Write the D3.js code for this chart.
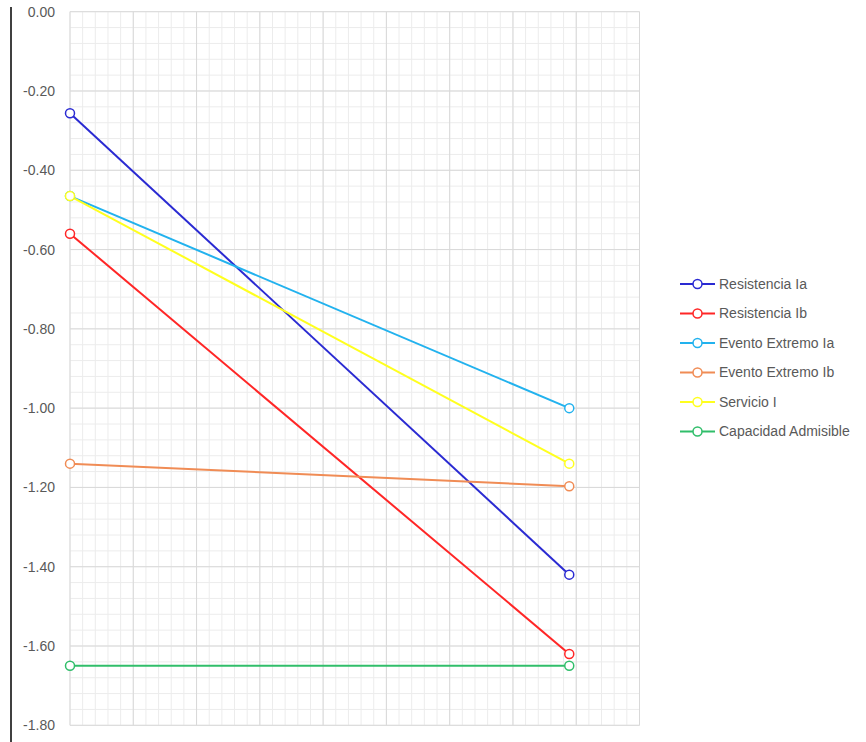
<!DOCTYPE html>
<html>
<head>
<meta charset="utf-8">
<script src="https://cdn.jsdelivr.net/npm/d3@7/dist/d3.min.js"></script>
<style>
  html, body { margin: 0; padding: 0; background: #fff; }
  svg { display: block; font-family: "Liberation Sans", Arial, sans-serif; }
</style>
</head>
<body>
<svg id="chart" width="866" height="742"></svg>
<script>
// ---- data ----
const xPositions = [0, 7.89];
const seriesNames = ["Resistencia Ia", "Resistencia Ib", "Evento Extremo Ia", "Evento Extremo Ib", "Servicio I", "Capacidad Admisible"];
const resistenciaIa = [-0.256, -1.42];
const resistenciaIb = [-0.56, -1.62];
const eventoExtremoIa = [-0.465, -1.00];
const eventoExtremoIb = [-1.14, -1.197];
const servicioI = [-0.465, -1.14];
const capacidadAdmisible = [-1.65, -1.65];
const seriesColors = ["#2A2AD2", "#FF2626", "#22B2EE", "#F08C55", "#FFFF1E", "#30BE6A"];
const yTicks = [0, -0.2, -0.4, -0.6, -0.8, -1.0, -1.2, -1.4, -1.6, -1.8];
const yTickLabels = ["0.00", "-0.20", "-0.40", "-0.60", "-0.80", "-1.00", "-1.20", "-1.40", "-1.60", "-1.80"];

const seriesValues = [resistenciaIa, resistenciaIb, eventoExtremoIa, eventoExtremoIb, servicioI, capacidadAdmisible];

// ---- layout ----
const svg = d3.select("#chart");
const plot = { left: 70, right: 639.5, top: 11.7, bottom: 725.3 };

const x = d3.scaleLinear().domain([0, 9]).range([plot.left, plot.right]);
const y = d3.scaleLinear().domain([0, -1.8]).range([plot.top, plot.bottom]);

// minor gridlines
const g = svg.append("g");
const minorX = d3.range(0, 9.0001, 0.2).map(v => +v.toFixed(2));
const minorY = d3.range(0, -1.8001, -0.04).map(v => +v.toFixed(3));
g.selectAll("line.mx").data(minorX).join("line")
  .attr("x1", d => x(d)).attr("x2", d => x(d))
  .attr("y1", plot.top).attr("y2", plot.bottom)
  .attr("stroke", "#ececec").attr("stroke-width", 1);
g.selectAll("line.my").data(minorY).join("line")
  .attr("y1", d => y(d)).attr("y2", d => y(d))
  .attr("x1", plot.left).attr("x2", plot.right)
  .attr("stroke", "#ececec").attr("stroke-width", 1);

// major gridlines
g.selectAll("line.Mx").data(d3.range(0, 10)).join("line")
  .attr("x1", d => x(d)).attr("x2", d => x(d))
  .attr("y1", plot.top).attr("y2", plot.bottom)
  .attr("stroke", "#d9d9d9").attr("stroke-width", 1);
g.selectAll("line.My").data(yTicks).join("line")
  .attr("y1", d => y(d)).attr("y2", d => y(d))
  .attr("x1", plot.left).attr("x2", plot.right)
  .attr("stroke", "#d9d9d9").attr("stroke-width", 1);

// y axis labels
const yAxis = d3.axisLeft(y).tickValues(yTicks)
  .tickFormat((d, i) => yTickLabels[i]).tickSize(0).tickPadding(15);
const ya = svg.append("g").attr("transform", `translate(${plot.left},0)`).call(yAxis);
ya.select(".domain").remove();
ya.selectAll("text").attr("fill", "#595959").attr("font-size", "14px")
  .attr("font-family", "'Liberation Sans', Arial, sans-serif");

// left black line
svg.append("line").attr("x1", 11).attr("x2", 11).attr("y1", 7).attr("y2", 742)
  .attr("stroke", "#404040").attr("stroke-width", 2);

// series
const line = d3.line().x((d, i) => x(xPositions[i])).y(d => y(d));
seriesValues.forEach((vals, si) => {
  svg.append("path").datum(vals).attr("d", line)
    .attr("fill", "none").attr("stroke", seriesColors[si]).attr("stroke-width", 2);
});
seriesValues.forEach((vals, si) => {
  svg.append("g").selectAll("circle").data(vals).join("circle")
    .attr("cx", (d, i) => x(xPositions[i])).attr("cy", d => y(d)).attr("r", 4.5)
    .attr("fill", "#fff").attr("stroke", seriesColors[si]).attr("stroke-width", 1.5);
});

// legend
const legend = svg.append("g").attr("transform", "translate(680,284)");
seriesNames.forEach((name, i) => {
  const row = legend.append("g").attr("transform", `translate(0,${i * 29.5})`);
  row.append("line").attr("x1", 0).attr("x2", 35).attr("y1", 0).attr("y2", 0)
    .attr("stroke", seriesColors[i]).attr("stroke-width", 2);
  row.append("circle").attr("cx", 17.5).attr("cy", 0).attr("r", 4.5)
    .attr("fill", "#fff").attr("stroke", seriesColors[i]).attr("stroke-width", 1.5);
  row.append("text").attr("x", 39).attr("y", 0).attr("dy", "0.35em")
    .attr("fill", "#595959").attr("font-size", "14px").text(name);
});
</script>
</body>
</html>
